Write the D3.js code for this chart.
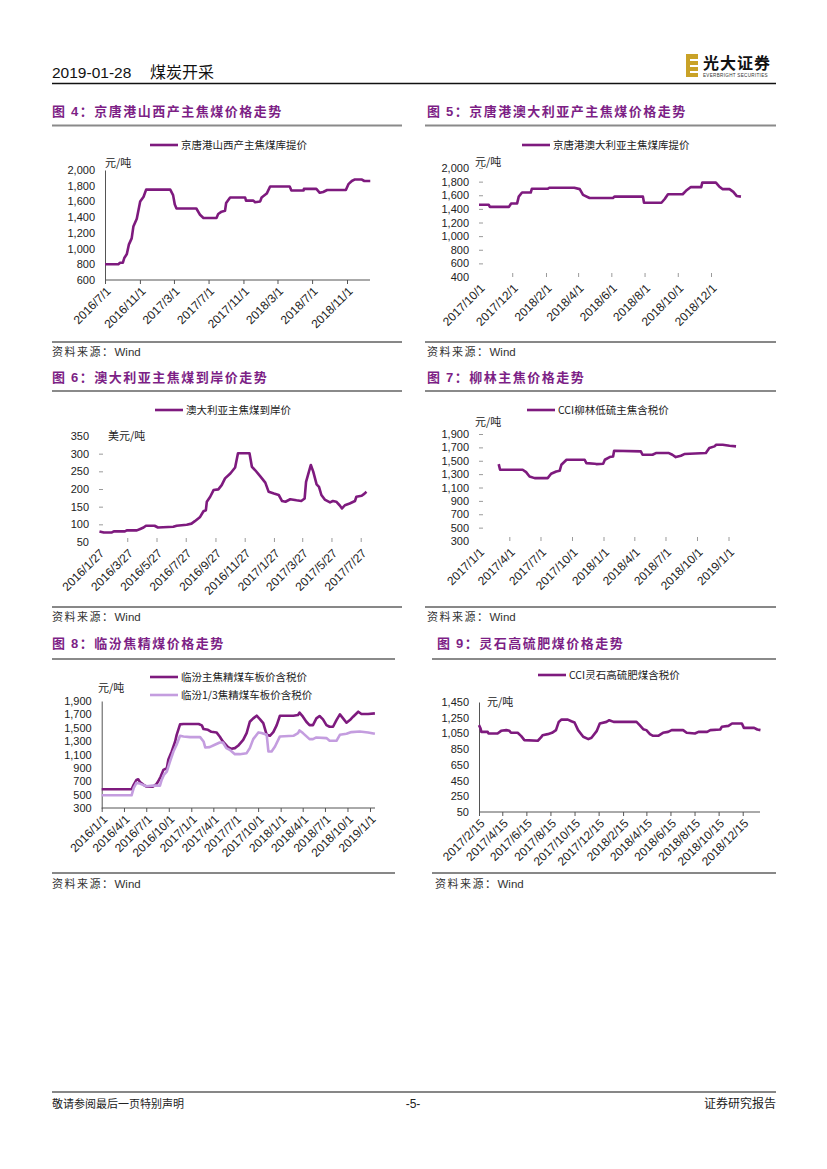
<!DOCTYPE html>
<html>
<head>
<meta charset="utf-8">
<script src="https://cdn.jsdelivr.net/npm/d3@7"></script>
<style>
body { margin: 0; background: #fff; }
svg text { font-family: "Liberation Sans", Arial, "Noto Sans CJK SC", sans-serif; }
.cjk { font-family: "Noto Sans CJK SC", sans-serif; }
</style>
</head>
<body>
<svg id="page" width="827" height="1169"></svg>
<script>
// ---- data ----
const c4Name = "京唐港山西产主焦煤库提价";
const c4Dates = ["2016-07-01","2016-08-17","2016-08-23","2016-09-02","2016-09-07","2016-09-16","2016-09-23","2016-10-03","2016-10-09","2016-10-21","2016-11-02","2016-11-14","2016-11-23","2017-02-16","2017-02-26","2017-03-04","2017-03-10","2017-05-19","2017-06-01","2017-06-13","2017-07-29","2017-08-04","2017-08-16","2017-08-28","2017-09-01","2017-09-15","2017-11-07","2017-11-10","2017-12-06","2017-12-12","2017-12-30","2018-01-04","2018-01-22","2018-02-03","2018-04-13","2018-04-19","2018-06-01","2018-06-02","2018-07-16","2018-07-28","2018-08-09","2018-08-23","2018-10-28","2018-11-06","2018-11-18","2018-11-29","2018-12-22","2019-01-01","2019-01-22"];
const c4Prices = [800,800,820,820,880,930,1050,1130,1280,1380,1600,1660,1750,1750,1680,1560,1510,1510,1430,1390,1390,1440,1470,1480,1580,1650,1650,1610,1610,1590,1600,1650,1700,1790,1790,1740,1740,1760,1760,1710,1720,1745,1745,1820,1860,1880,1880,1860,1860];
const c4XTicks = ["2016-07-01","2016-11-01","2017-03-01","2017-07-01","2017-11-01","2018-03-01","2018-07-01","2018-11-01"];
const c4YTicks = [600,800,1000,1200,1400,1600,1800,2000];

const c5Name = "京唐港澳大利亚主焦煤库提价";
const c5Dates = ["2017-10-01","2017-10-19","2017-10-21","2017-11-25","2017-11-29","2017-12-10","2017-12-13","2017-12-19","2018-01-04","2018-01-06","2018-02-04","2018-02-07","2018-03-25","2018-04-04","2018-04-10","2018-04-22","2018-06-04","2018-06-07","2018-07-29","2018-07-31","2018-09-01","2018-09-07","2018-09-13","2018-10-10","2018-10-16","2018-10-25","2018-11-13","2018-11-15","2018-12-10","2018-12-16","2018-12-22","2019-01-04","2019-01-11","2019-01-17","2019-01-25"];
const c5Prices = [1460,1460,1430,1430,1480,1480,1580,1640,1640,1695,1695,1710,1710,1690,1605,1560,1560,1580,1580,1490,1490,1545,1615,1615,1665,1720,1720,1785,1785,1730,1690,1690,1650,1590,1580];
const c5XTicks = ["2017-10-01","2017-12-01","2018-02-01","2018-04-01","2018-06-01","2018-08-01","2018-10-01","2018-12-01"];
const c5YTicks = [400,600,800,1000,1200,1400,1600,1800,2000];

const c6Name = "澳大利亚主焦煤到岸价";
const c6Dates = ["2016-01-29","2016-02-07","2016-02-24","2016-02-28","2016-03-22","2016-03-26","2016-04-16","2016-04-23","2016-04-30","2016-05-05","2016-05-23","2016-05-30","2016-07-01","2016-07-08","2016-07-29","2016-08-08","2016-08-15","2016-08-26","2016-09-02","2016-09-07","2016-09-09","2016-09-16","2016-09-23","2016-10-03","2016-10-10","2016-10-17","2016-10-28","2016-11-07","2016-11-13","2016-12-07","2016-12-12","2016-12-19","2016-12-30","2017-01-09","2017-01-16","2017-01-27","2017-02-06","2017-02-13","2017-02-20","2017-03-02","2017-03-15","2017-03-25","2017-04-01","2017-04-04","2017-04-10","2017-04-14","2017-04-19","2017-04-26","2017-05-01","2017-05-06","2017-05-13","2017-05-24","2017-05-30","2017-06-06","2017-06-13","2017-06-18","2017-06-24","2017-07-04","2017-07-15","2017-07-18","2017-07-29","2017-08-04","2017-08-08"];
const c6Prices = [80,77,77,80,80,83,83,87,91,96,96,91,93,96,99,102,109,121,137,140,164,178,197,199,211,230,244,261,301,301,263,253,235,218,192,187,183,166,164,171,168,166,173,220,249,268,249,213,206,183,170,162,166,164,154,145,154,159,166,178,181,187,192];
const c6XTicks = ["2016-01-27","2016-03-27","2016-05-27","2016-07-27","2016-09-27","2016-11-27","2017-01-27","2017-03-27","2017-05-27","2017-07-27"];
const c6YTicks = [50,100,150,200,250,300,350];

const c7Name = "CCI柳林低硫主焦含税价";
const c7Dates = ["2017-03-01","2017-03-05","2017-05-10","2017-05-20","2017-05-30","2017-06-14","2017-07-22","2017-08-01","2017-08-16","2017-08-26","2017-08-31","2017-09-15","2017-11-07","2017-11-12","2017-12-06","2017-12-11","2017-12-31","2018-01-05","2018-01-19","2018-01-29","2018-02-01","2018-04-20","2018-04-25","2018-05-24","2018-06-03","2018-07-11","2018-07-21","2018-07-31","2018-08-15","2018-08-25","2018-10-27","2018-11-06","2018-11-21","2018-11-26","2018-12-15","2019-01-04","2019-01-23"];
const c7Prices = [1450,1365,1365,1330,1265,1240,1240,1305,1340,1350,1440,1515,1515,1465,1455,1450,1455,1515,1555,1565,1650,1640,1590,1590,1615,1615,1590,1555,1575,1600,1615,1690,1715,1740,1740,1725,1715];
const c7XTicks = ["2017-01-01","2017-04-01","2017-07-01","2017-10-01","2018-01-01","2018-04-01","2018-07-01","2018-10-01","2019-01-01"];
const c7YTicks = [300,500,700,900,1100,1300,1500,1700,1900];

const c8MainName = "临汾主焦精煤车板价含税价";
const c8MainDates = ["2016-01-01","2016-05-02","2016-05-11","2016-05-22","2016-05-29","2016-06-05","2016-06-19","2016-07-02","2016-07-29","2016-08-12","2016-08-19","2016-08-29","2016-09-09","2016-09-23","2016-09-29","2016-10-13","2016-10-27","2016-11-02","2016-11-16","2016-11-30","2017-01-31","2017-02-13","2017-02-20","2017-03-10","2017-03-24","2017-04-14","2017-04-27","2017-05-10","2017-05-31","2017-06-14","2017-06-28","2017-07-11","2017-08-01","2017-08-15","2017-08-28","2017-09-11","2017-09-25","2017-10-08","2017-10-22","2017-11-05","2017-11-18","2017-12-02","2017-12-16","2017-12-29","2018-02-22","2018-03-13","2018-03-19","2018-04-02","2018-04-16","2018-04-29","2018-05-13","2018-05-27","2018-06-09","2018-06-23","2018-07-07","2018-07-20","2018-08-03","2018-08-17","2018-08-31","2018-09-13","2018-09-27","2018-10-11","2018-10-24","2018-11-14","2018-11-27","2018-12-24","2019-01-21"];
const c8MainPrices = [580,580,650,720,730,690,650,620,620,660,700,770,870,895,1020,1145,1295,1390,1550,1555,1555,1535,1480,1470,1440,1430,1370,1295,1210,1185,1195,1230,1320,1420,1590,1640,1680,1630,1570,1395,1380,1435,1540,1680,1680,1690,1725,1665,1590,1540,1540,1640,1675,1625,1540,1515,1515,1615,1700,1640,1575,1615,1665,1740,1705,1705,1715];
const c8ThirdName = "临汾1/3焦精煤车板价含税价";
const c8ThirdDates = ["2016-01-01","2016-05-02","2016-05-11","2016-05-22","2016-06-05","2016-07-02","2016-07-29","2016-08-26","2016-09-02","2016-09-11","2016-09-23","2016-10-06","2016-10-20","2016-11-02","2016-11-16","2016-11-30","2016-12-27","2017-02-06","2017-02-20","2017-02-27","2017-03-17","2017-04-07","2017-04-27","2017-05-10","2017-05-24","2017-06-07","2017-06-28","2017-07-18","2017-08-15","2017-08-28","2017-09-11","2017-10-02","2017-10-15","2017-11-05","2017-11-12","2017-11-25","2017-12-09","2017-12-29","2018-02-22","2018-03-13","2018-03-19","2018-04-02","2018-04-29","2018-05-13","2018-05-27","2018-07-07","2018-07-20","2018-08-17","2018-08-31","2018-09-27","2018-10-17","2018-11-20","2018-12-24","2019-01-21"];
const c8ThirdPrices = [490,490,600,675,665,625,635,635,720,795,845,995,1145,1245,1380,1370,1360,1360,1295,1205,1210,1245,1280,1280,1195,1170,1105,1105,1120,1195,1330,1430,1420,1395,1145,1145,1220,1370,1380,1420,1460,1420,1330,1330,1355,1345,1305,1305,1395,1410,1435,1445,1430,1410];
const c8XTicks = ["2016-01-01","2016-04-01","2016-07-01","2016-10-01","2017-01-01","2017-04-01","2017-07-01","2017-10-01","2018-01-01","2018-04-01","2018-07-01","2018-10-01","2019-01-01"];
const c8YTicks = [300,500,700,900,1100,1300,1500,1700,1900];

const c9Name = "CCI灵石高硫肥煤含税价";
const c9Dates = ["2017-02-15","2017-02-19","2017-02-21","2017-03-09","2017-03-11","2017-04-03","2017-04-12","2017-04-25","2017-05-03","2017-05-07","2017-05-24","2017-06-02","2017-06-10","2017-07-14","2017-07-22","2017-07-26","2017-08-08","2017-08-19","2017-08-29","2017-09-05","2017-09-12","2017-09-28","2017-10-07","2017-10-15","2017-10-24","2017-11-06","2017-11-19","2017-11-27","2017-12-10","2017-12-18","2018-01-04","2018-01-11","2018-01-22","2018-03-21","2018-03-29","2018-04-07","2018-04-15","2018-04-24","2018-05-02","2018-05-15","2018-05-27","2018-06-09","2018-06-18","2018-07-17","2018-07-26","2018-08-16","2018-08-25","2018-09-16","2018-09-24","2018-10-19","2018-10-23","2018-11-09","2018-11-18","2018-12-13","2018-12-18","2019-01-13","2019-01-21","2019-01-29"];
const c9Prices = [1155,1113,1070,1070,1049,1049,1083,1092,1083,1058,1058,1016,965,957,999,1028,1041,1058,1092,1197,1226,1226,1205,1189,1092,1007,978,995,1079,1176,1197,1218,1197,1197,1155,1104,1092,1041,1020,1020,1058,1070,1092,1092,1058,1049,1070,1070,1092,1100,1134,1146,1176,1176,1121,1121,1100,1092];
const c9XTicks = ["2017-02-15","2017-04-15","2017-06-15","2017-08-15","2017-10-15","2017-12-15","2018-02-15","2018-04-15","2018-06-15","2018-08-15","2018-10-15","2018-12-15"];
const c9YTicks = [50,250,450,650,850,1050,1250,1450];

// ---- drawing ----
const PURPLE = "#7e1a7e";
const LILAC = "#c49ddf";
const TITLE = "#7d1f86";
const parse = d3.timeParse("%Y-%m-%d");
const fmtDate = d3.timeFormat("%Y/%-m/%-d");
const svg = d3.select("#page");

function series(dates, vals) {
  return d3.zip(dates, vals).map(p => ({ date: parse(p[0]), v: p[1] }));
}

function drawChart(c) {
  const g = svg.append("g");
  const x = d3.scaleTime().domain([parse(c.xTicks[0]), parse(c.xTicks[c.xTicks.length - 1])]).range(c.xPix);
  const y = d3.scaleLinear().domain(d3.extent(c.yTicks)).range([c.y0, c.yTop]);

  const yAxis = d3.axisLeft(y).tickValues(c.yTicks).tickFormat(d3.format(",")).tickSizeOuter(0).tickPadding(10);
  const xAxis = d3.axisBottom(x).tickValues(c.xTicks.map(parse)).tickFormat(fmtDate).tickSizeOuter(0).tickPadding(0);
  if (c.frame) { yAxis.tickSizeInner(0); xAxis.tickSizeInner(4); }
  else { yAxis.tickSizeInner(-4); xAxis.tickSizeInner(-4); }

  const gy = g.append("g").attr("transform", "translate(" + c.x0 + ",0)").call(yAxis);
  const gx = g.append("g").attr("transform", "translate(0," + c.y0 + ")").call(xAxis);
  gx.select(".domain").remove();
  gy.selectAll(".tick line").attr("stroke", "#9a9a9a");
  gx.selectAll(".tick line").attr("stroke", c.frame ? "#555" : "#9a9a9a");
  if (c.frame) {
    gy.select(".domain").attr("stroke", "#555");
    g.append("line").attr("x1", c.x0).attr("x2", c.xEnd).attr("y1", c.y0).attr("y2", c.y0)
      .attr("stroke", "#555").attr("stroke-width", 1);
  } else {
    gy.select(".domain").remove();
    gy.selectAll(".tick").filter(d => d === d3.min(c.yTicks) || (c.noTopDash && d === d3.max(c.yTicks)))
      .select("line").remove();
    gx.selectAll(".tick").filter((d, i) => i === 0).select("line").remove();
  }
  gy.selectAll("text").attr("font-size", 11).attr("fill", "#222")
    .attr("font-family", "'Liberation Sans', Arial, sans-serif");
  gx.selectAll("text").attr("font-size", 12).attr("fill", "#222")
    .attr("font-family", "'Liberation Sans', Arial, sans-serif")
    .attr("text-anchor", "end").attr("y", null).attr("dy", "0.35em")
    .attr("transform", "translate(3,9) rotate(-45)");

  // unit
  g.append("text").attr("class", "cjk").attr("x", c.unit[0]).attr("y", c.unit[1]).attr("dy", "0.35em")
    .attr("font-size", 11).attr("fill", "#222").text(c.unit[2]);

  // lines + legend
  const line = d3.line().x(d => x(d.date)).y(d => y(d.v));
  c.lines.forEach((s, i) => {
    g.append("path").datum(series(s.dates, s.vals)).attr("fill", "none")
      .attr("stroke", s.color).attr("stroke-width", 2.6).attr("stroke-linejoin", "round").attr("d", line);
    const ly = c.legend[1] + i * 18;
    g.append("line").attr("x1", c.legend[0]).attr("x2", c.legend[0] + 28).attr("y1", ly).attr("y2", ly)
      .attr("stroke", s.color).attr("stroke-width", 2.6);
    g.append("text").attr("class", "cjk").attr("x", c.legend[0] + 31).attr("y", ly).attr("dy", "0.36em")
      .attr("font-size", 10.5).attr("fill", "#222").text(s.name);
  });
}

// page furniture
function ttl(xp, yp, num, txt) {
  const t = svg.append("text").attr("class", "cjk").attr("x", xp).attr("y", yp)
    .attr("font-size", 13).attr("font-weight", "bold").attr("fill", TITLE).attr("letter-spacing", 1.5);
  t.append("tspan").text("图 ");
  t.append("tspan").attr("font-family", "'Liberation Sans', Arial, sans-serif").text(num);
  t.append("tspan").text("：" + txt);
}
function rule(x1, x2, yp, color, w) {
  svg.append("line").attr("x1", x1).attr("x2", x2).attr("y1", yp).attr("y2", yp)
    .attr("stroke", color).attr("stroke-width", w);
}
function src(xp, yp) {
  const t = svg.append("text").attr("x", xp).attr("y", yp).attr("font-size", 11).attr("fill", "#333");
  t.append("tspan").attr("class", "cjk").attr("letter-spacing", 1.5).text("资料来源：");
  t.append("tspan").attr("font-size", 11.5).text("Wind");
}

// header
svg.append("text").attr("x", 52).attr("y", 78).attr("font-size", 15.5).attr("fill", "#111").text("2019-01-28");
svg.append("text").attr("class", "cjk").attr("x", 150).attr("y", 78).attr("font-size", 16).attr("fill", "#111").text("煤炭开采");
rule(52, 776, 83.5, "#111", 1.5);
svg.append("rect").attr("x", 686).attr("y", 54).attr("width", 12).attr("height", 23).attr("fill", "#c9a227");
[59, 65, 71].forEach(yy => svg.append("rect").attr("x", 690).attr("y", yy).attr("width", 8).attr("height", 2).attr("fill", "#fff"));
svg.append("text").attr("class", "cjk").attr("x", 703).attr("y", 69).attr("font-size", 16).attr("font-weight", "bold")
  .attr("fill", "#111").attr("letter-spacing", 1).text("光大证券");
svg.append("text").attr("x", 703).attr("y", 76.5).attr("font-size", 4.6).attr("fill", "#333")
  .attr("letter-spacing", 0.3).text("EVERBRIGHT SECURITIES");

// row titles, rules, sources
ttl(52, 116, "4", "京唐港山西产主焦煤价格走势");
ttl(427, 116, "5", "京唐港澳大利亚产主焦煤价格走势");
rule(52, 402, 125.5, "#8a8a8a", 2);
rule(425, 776, 125.5, "#8a8a8a", 2);
rule(52, 402, 342, "#111", 1);
rule(425, 776, 342, "#111", 1);
src(52, 356); src(427, 356);

ttl(52, 382, "6", "澳大利亚主焦煤到岸价走势");
ttl(427, 382, "7", "柳林主焦价格走势");
rule(52, 402, 391, "#8a8a8a", 2);
rule(425, 776, 391, "#8a8a8a", 2);
rule(52, 402, 607, "#111", 1);
rule(425, 776, 607, "#111", 1);
src(52, 621); src(427, 621);

ttl(52, 648, "8", "临汾焦精煤价格走势");
ttl(437, 648, "9", "灵石高硫肥煤价格走势");
rule(52, 395, 659, "#8a8a8a", 2);
rule(432, 776, 659, "#8a8a8a", 2);
rule(52, 395, 873, "#111", 1);
rule(432, 776, 873, "#111", 1);
src(52, 888); src(435, 888);

// footer
rule(52, 776, 1092, "#111", 1.2);
svg.append("text").attr("class", "cjk").attr("x", 52).attr("y", 1108).attr("font-size", 11).attr("fill", "#222").text("敬请参阅最后一页特别声明");
svg.append("text").attr("x", 413).attr("y", 1108).attr("text-anchor", "middle").attr("font-size", 12).attr("fill", "#222").text("-5-");
svg.append("text").attr("class", "cjk").attr("x", 776).attr("y", 1108).attr("text-anchor", "end").attr("font-size", 12).attr("fill", "#222").text("证券研究报告");

// charts
drawChart({ frame: true, x0: 105, y0: 280, yTop: 170, xEnd: 370, xPix: [105, 347],
  xTicks: c4XTicks, yTicks: c4YTicks, unit: [105, 163, "元/吨"], legend: [150, 145],
  lines: [{ name: c4Name, dates: c4Dates, vals: c4Prices, color: PURPLE }] });
drawChart({ frame: false, x0: 479, y0: 277, yTop: 168, xPix: [479, 711],
  xTicks: c5XTicks, yTicks: c5YTicks, unit: [475, 162, "元/吨"], legend: [522, 145],
  lines: [{ name: c5Name, dates: c5Dates, vals: c5Prices, color: PURPLE }] });
drawChart({ frame: false, noTopDash: true, x0: 99, y0: 542, yTop: 436, xPix: [98.5, 360.7],
  xTicks: c6XTicks, yTicks: c6YTicks, unit: [108, 436, "美元/吨"], legend: [155, 410],
  lines: [{ name: c6Name, dates: c6Dates, vals: c6Prices, color: PURPLE }] });
drawChart({ frame: false, x0: 479, y0: 541, yTop: 434, xPix: [478.5, 728.5],
  xTicks: c7XTicks, yTicks: c7YTicks, unit: [475, 422, "元/吨"], legend: [527, 410],
  lines: [{ name: c7Name, dates: c7Dates, vals: c7Prices, color: PURPLE }] });
drawChart({ frame: true, x0: 101.7, y0: 808, yTop: 701, xEnd: 375, xPix: [101.7, 370],
  xTicks: c8XTicks, yTicks: c8YTicks, unit: [98, 688, "元/吨"], legend: [150, 677],
  lines: [{ name: c8MainName, dates: c8MainDates, vals: c8MainPrices, color: PURPLE },
          { name: c8ThirdName, dates: c8ThirdDates, vals: c8ThirdPrices, color: LILAC }] });
drawChart({ frame: true, x0: 479, y0: 812, yTop: 702, xEnd: 760, xPix: [479, 742.7],
  xTicks: c9XTicks, yTicks: c9YTicks, unit: [487, 702, "元/吨"], legend: [538, 675],
  lines: [{ name: c9Name, dates: c9Dates, vals: c9Prices, color: PURPLE }] });
</script>
</body>
</html>
